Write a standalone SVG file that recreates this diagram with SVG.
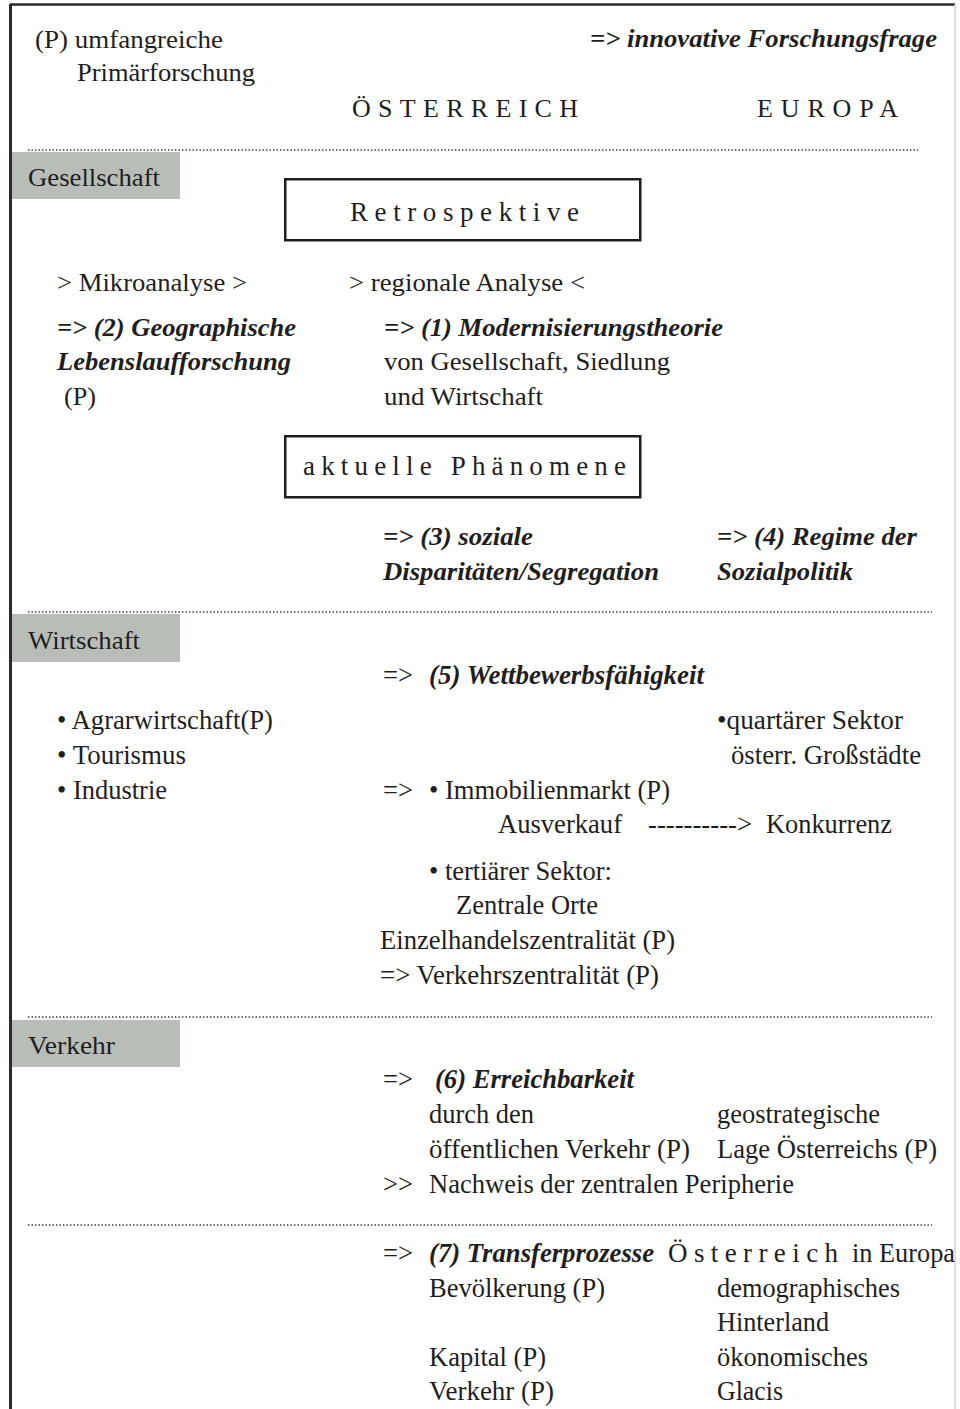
<svg xmlns="http://www.w3.org/2000/svg" width="960" height="1409" viewBox="0 0 960 1409">
<style>
.t{font-family:"Liberation Serif","Times New Roman",serif;font-size:26px;fill:#1e1e1e}
.c{font-size:27px}
.bi{font-weight:bold;font-style:italic}
.sp{font-size:26px}
.lbl{fill:#b9bdb7}
.box{fill:#fff;stroke:#1e1e1e;stroke-width:2.5}
.dot{stroke:#333;stroke-width:1.6;stroke-dasharray:1.4 2.1;fill:none}
</style>
<rect x="0" y="0" width="960" height="1409" fill="#fff"/>
<g id="frame">
<line x1="10" y1="4.5" x2="955" y2="4.5" stroke="#2a2a2a" stroke-width="2.5"/>
<line x1="10.5" y1="4" x2="10.5" y2="1409" stroke="#2a2a2a" stroke-width="3"/>
<line x1="955" y1="4" x2="955" y2="1409" stroke="#d4d4d4" stroke-width="1.5"/>
</g>
<g id="separators">
<line class="dot" x1="28" y1="150" x2="918" y2="150"/>
<line class="dot" x1="28" y1="612" x2="932" y2="612"/>
<line class="dot" x1="28" y1="1017" x2="932" y2="1017"/>
<line class="dot" x1="28" y1="1225" x2="932" y2="1225"/>
</g>
<g id="header">
<text class="t" x="35" y="48" textLength="188" lengthAdjust="spacingAndGlyphs">(P) umfangreiche</text>
<text class="t" x="77" y="81" textLength="178" lengthAdjust="spacingAndGlyphs">Primärforschung</text>
<text class="t bi" x="590" y="47" textLength="347" lengthAdjust="spacingAndGlyphs">=&gt; innovative Forschungsfrage</text>
<text class="t sp" x="352" y="117" textLength="226">ÖSTERREICH</text>
<text class="t sp" x="757" y="117" textLength="141">EUROPA</text>
</g>
<g id="label-gesellschaft">
<rect class="lbl" x="12" y="152" width="168" height="47"/>
<text class="t" x="28" y="186" textLength="132" lengthAdjust="spacingAndGlyphs">Gesellschaft</text>
</g>
<g id="retrospektive">
<rect class="box" x="285.25" y="179.25" width="355" height="61"/>
<text class="t c" x="350" y="221" textLength="229">Retrospektive</text>
</g>
<g id="mikroanalyse">
<text class="t" x="57" y="291" textLength="190" lengthAdjust="spacingAndGlyphs">&gt; Mikroanalyse &gt;</text>
<text class="t bi" x="57" y="336" textLength="239" lengthAdjust="spacingAndGlyphs">=&gt; (2) Geographische</text>
<text class="t bi" x="57" y="370" textLength="234" lengthAdjust="spacingAndGlyphs">Lebenslaufforschung</text>
<text class="t" x="64" y="405" textLength="32" lengthAdjust="spacingAndGlyphs">(P)</text>
</g>
<g id="regionale-analyse">
<text class="t" x="349" y="291" textLength="236" lengthAdjust="spacingAndGlyphs">&gt; regionale Analyse &lt;</text>
<text class="t bi" x="384" y="336" textLength="339" lengthAdjust="spacingAndGlyphs">=&gt; (1) Modernisierungstheorie</text>
<text class="t" x="384" y="370" textLength="286" lengthAdjust="spacingAndGlyphs">von Gesellschaft, Siedlung</text>
<text class="t" x="384" y="405" textLength="159" lengthAdjust="spacingAndGlyphs">und Wirtschaft</text>
</g>
<g id="aktuelle-phaenomene">
<rect class="box" x="285.25" y="436.25" width="355" height="61"/>
<text class="t c" x="303" y="475" textLength="323">aktuelle Phänomene</text>
</g>
<g id="soziale-disparitaeten">
<text class="t bi" x="383" y="545" textLength="150" lengthAdjust="spacingAndGlyphs">=&gt; (3) soziale</text>
<text class="t bi" x="383" y="580" textLength="276" lengthAdjust="spacingAndGlyphs">Disparitäten/Segregation</text>
</g>
<g id="regime-sozialpolitik">
<text class="t bi" x="717" y="545" textLength="200" lengthAdjust="spacingAndGlyphs">=&gt; (4) Regime der</text>
<text class="t bi" x="717" y="580" textLength="136" lengthAdjust="spacingAndGlyphs">Sozialpolitik</text>
</g>
<g id="label-wirtschaft">
<rect class="lbl" x="12" y="614" width="168" height="48"/>
<text class="t" x="28" y="649" textLength="112" lengthAdjust="spacingAndGlyphs">Wirtschaft</text>
</g>
<g id="wettbewerbsfaehigkeit">
<text class="t c" x="383" y="684" textLength="30" lengthAdjust="spacingAndGlyphs">=&gt;</text>
<text class="t c bi" x="429" y="684" textLength="275" lengthAdjust="spacingAndGlyphs">(5) Wettbewerbsfähigkeit</text>
</g>
<g id="branchen">
<text class="t c" x="57" y="729" textLength="216" lengthAdjust="spacingAndGlyphs">• Agrarwirtschaft(P)</text>
<text class="t c" x="57" y="764" textLength="129" lengthAdjust="spacingAndGlyphs">• Tourismus</text>
<text class="t c" x="57" y="799" textLength="110" lengthAdjust="spacingAndGlyphs">• Industrie</text>
</g>
<g id="quartaerer-sektor">
<text class="t c" x="717" y="729" textLength="186" lengthAdjust="spacingAndGlyphs">•quartärer Sektor</text>
<text class="t c" x="731" y="764" textLength="190" lengthAdjust="spacingAndGlyphs">österr. Großstädte</text>
</g>
<g id="immobilienmarkt">
<text class="t c" x="383" y="799" textLength="30" lengthAdjust="spacingAndGlyphs">=&gt;</text>
<text class="t c" x="429" y="799" textLength="241" lengthAdjust="spacingAndGlyphs">• Immobilienmarkt (P)</text>
<text class="t c" x="498" y="833" textLength="124" lengthAdjust="spacingAndGlyphs">Ausverkauf</text>
<text class="t c" x="648" y="833" textLength="104" lengthAdjust="spacingAndGlyphs">----------&gt;</text>
<text class="t c" x="766" y="833" textLength="126" lengthAdjust="spacingAndGlyphs">Konkurrenz</text>
</g>
<g id="tertiaerer-sektor">
<text class="t c" x="429" y="880" textLength="183" lengthAdjust="spacingAndGlyphs">• tertiärer Sektor:</text>
<text class="t c" x="456" y="914" textLength="142" lengthAdjust="spacingAndGlyphs">Zentrale Orte</text>
<text class="t c" x="380" y="949" textLength="295" lengthAdjust="spacingAndGlyphs">Einzelhandelszentralität (P)</text>
<text class="t c" x="380" y="984" textLength="279" lengthAdjust="spacingAndGlyphs">=&gt; Verkehrszentralität (P)</text>
</g>
<g id="label-verkehr">
<rect class="lbl" x="12" y="1020" width="168" height="47"/>
<text class="t" x="28" y="1054" textLength="87" lengthAdjust="spacingAndGlyphs">Verkehr</text>
</g>
<g id="erreichbarkeit">
<text class="t c" x="383" y="1088" textLength="30" lengthAdjust="spacingAndGlyphs">=&gt;</text>
<text class="t c bi" x="435" y="1088" textLength="199" lengthAdjust="spacingAndGlyphs">(6) Erreichbarkeit</text>
<text class="t c" x="429" y="1123" textLength="105" lengthAdjust="spacingAndGlyphs">durch den</text>
<text class="t c" x="429" y="1158" textLength="261" lengthAdjust="spacingAndGlyphs">öffentlichen Verkehr (P)</text>
</g>
<g id="geostrategische-lage">
<text class="t c" x="717" y="1123" textLength="163" lengthAdjust="spacingAndGlyphs">geostrategische</text>
<text class="t c" x="717" y="1158" textLength="220" lengthAdjust="spacingAndGlyphs">Lage Österreichs (P)</text>
</g>
<g id="zentrale-peripherie">
<text class="t c" x="383" y="1193" textLength="30" lengthAdjust="spacingAndGlyphs">&gt;&gt;</text>
<text class="t c" x="429" y="1193" textLength="365" lengthAdjust="spacingAndGlyphs">Nachweis der zentralen Peripherie</text>
</g>
<g id="transferprozesse">
<text class="t c" x="383" y="1262" textLength="30" lengthAdjust="spacingAndGlyphs">=&gt;</text>
<text class="t c bi" x="429" y="1262" textLength="225" lengthAdjust="spacingAndGlyphs">(7) Transferprozesse</text>
<text class="t c" x="668" y="1262" textLength="170">Österreich</text>
<text class="t c" x="852" y="1262" textLength="103" lengthAdjust="spacingAndGlyphs">in Europa</text>
</g>
<g id="transfer-inhalte">
<text class="t c" x="429" y="1297" textLength="176" lengthAdjust="spacingAndGlyphs">Bevölkerung (P)</text>
<text class="t c" x="429" y="1366" textLength="117" lengthAdjust="spacingAndGlyphs">Kapital (P)</text>
<text class="t c" x="429" y="1400" textLength="125" lengthAdjust="spacingAndGlyphs">Verkehr (P)</text>
</g>
<g id="transfer-raeume">
<text class="t c" x="717" y="1297" textLength="183" lengthAdjust="spacingAndGlyphs">demographisches</text>
<text class="t c" x="717" y="1331" textLength="112" lengthAdjust="spacingAndGlyphs">Hinterland</text>
<text class="t c" x="717" y="1366" textLength="151" lengthAdjust="spacingAndGlyphs">ökonomisches</text>
<text class="t c" x="717" y="1400" textLength="66" lengthAdjust="spacingAndGlyphs">Glacis</text>
</g>
<g id="connectors"></g>
</svg>
